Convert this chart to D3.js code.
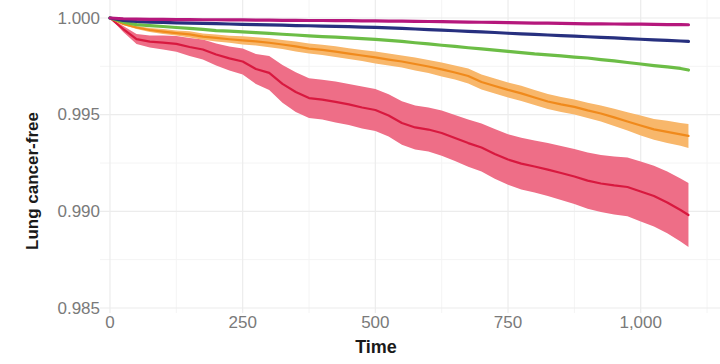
<!DOCTYPE html>
<html>
<head>
<meta charset="utf-8">
<script src="https://cdn.jsdelivr.net/npm/d3@7"></script>
<style>
  html, body { margin: 0; padding: 0; background: #fff; }
  svg { display: block; }
</style>
</head>
<body>
<svg id="chart" width="720" height="364"></svg>
<script>
// === DATA ===
const times = [0, 25, 50, 75, 100, 125, 150, 175, 200, 225, 250, 275, 300, 325, 350, 375, 400,
  425, 450, 475, 500, 525, 550, 575, 600, 625, 650, 675, 700, 725, 750, 775, 800, 825, 850,
  875, 900, 925, 950, 975, 1000, 1025, 1050, 1075, 1090];

const redSurv = [1, 0.99943, 0.99891, 0.99878, 0.99873, 0.99866, 0.99850, 0.99837, 0.99811,
  0.99791, 0.99775, 0.99736, 0.99716, 0.99659, 0.99617, 0.99586, 0.99578, 0.99566, 0.99553,
  0.99537, 0.99524, 0.99496, 0.99457, 0.99434, 0.99423, 0.99405, 0.99379, 0.99353, 0.99330,
  0.99297, 0.99268, 0.99247, 0.99232, 0.99216, 0.99198, 0.99180, 0.99159, 0.99144, 0.99134,
  0.99126, 0.99103, 0.99079, 0.99046, 0.99007, 0.98981];
const redCI = [0, 0.00016, 0.00026, 0.00031, 0.00036, 0.00041, 0.00047, 0.00052, 0.00057,
  0.00062, 0.00067, 0.00078, 0.00088, 0.00098, 0.00103, 0.00103, 0.00103, 0.00106, 0.00106,
  0.00109, 0.00109, 0.00109, 0.00112, 0.00114, 0.00114, 0.00117, 0.00119, 0.00122, 0.00124,
  0.00129, 0.00131, 0.00134, 0.00134, 0.00137, 0.00140, 0.00142, 0.00145, 0.00147, 0.00150,
  0.00152, 0.00155, 0.00157, 0.00160, 0.00163, 0.00165];

const orangeSurv = [1, 0.99969, 0.99951, 0.99938, 0.99930, 0.99922, 0.99915, 0.99904, 0.99897,
  0.99890, 0.99884, 0.99879, 0.99872, 0.99863, 0.99853, 0.99842, 0.99835, 0.99826, 0.99816,
  0.99806, 0.99796, 0.99785, 0.99775, 0.99762, 0.99749, 0.99734, 0.99718, 0.99700, 0.99669,
  0.99648, 0.99628, 0.99610, 0.99589, 0.99568, 0.99553, 0.99540, 0.99522, 0.99506, 0.99486,
  0.99465, 0.99444, 0.99424, 0.99411, 0.99398, 0.99390];
const orangeCI = [0, 0.00005, 0.00008, 0.00010, 0.00013, 0.00013, 0.00016, 0.00016, 0.00018,
  0.00018, 0.00021, 0.00021, 0.00023, 0.00023, 0.00026, 0.00026, 0.00026, 0.00028, 0.00028,
  0.00028, 0.00031, 0.00031, 0.00031, 0.00034, 0.00034, 0.00036, 0.00036, 0.00039, 0.00039,
  0.00039, 0.00039, 0.00039, 0.00039, 0.00039, 0.00039, 0.00039, 0.00039, 0.00041, 0.00044,
  0.00047, 0.00052, 0.00054, 0.00057, 0.00059, 0.00062];

const greenSurv = [1, 0.99979, 0.99966, 0.99961, 0.99956, 0.99951, 0.99946, 0.99941, 0.99935,
  0.99932, 0.99928, 0.99924, 0.99920, 0.99916, 0.99912, 0.99908, 0.99904, 0.99901, 0.99897,
  0.99893, 0.99889, 0.99884, 0.99879, 0.99872, 0.99866, 0.99859, 0.99853, 0.99846, 0.99840,
  0.99834, 0.99827, 0.99821, 0.99814, 0.99809, 0.99804, 0.99798, 0.99793, 0.99785, 0.99778,
  0.99770, 0.99762, 0.99754, 0.99747, 0.99739, 0.99731];

const navySurv = [1, 0.99987, 0.99982, 0.99979, 0.99977, 0.99975, 0.99974, 0.99972, 0.99971,
  0.99969, 0.99967, 0.99966, 0.99964, 0.99963, 0.99961, 0.99960, 0.99958, 0.99957, 0.99955,
  0.99953, 0.99952, 0.99949, 0.99946, 0.99943, 0.99940, 0.99937, 0.99934, 0.99931, 0.99928,
  0.99925, 0.99921, 0.99918, 0.99915, 0.99912, 0.99909, 0.99906, 0.99903, 0.99900, 0.99897,
  0.99893, 0.99890, 0.99887, 0.99884, 0.99881, 0.99879];

const magentaSurv = [1, 0.99996, 0.99994, 0.99993, 0.99993, 0.99992, 0.99992, 0.99991, 0.99991,
  0.99990, 0.99990, 0.99989, 0.99989, 0.99988, 0.99988, 0.99987, 0.99987, 0.99986, 0.99986,
  0.99985, 0.99985, 0.99984, 0.99984, 0.99983, 0.99982, 0.99981, 0.99980, 0.99979, 0.99978,
  0.99977, 0.99976, 0.99975, 0.99974, 0.99973, 0.99972, 0.99971, 0.99970, 0.99970, 0.99969,
  0.99968, 0.99968, 0.99967, 0.99966, 0.99966, 0.99965];

const xTicks = [0, 250, 500, 750, 1000];
const xMinor = [125, 375, 625, 875, 1125];
const yTicks = [0.985, 0.990, 0.995, 1.000];
const yMinor = [0.9875, 0.9925, 0.9975];

// === SCALES ===
const svg = d3.select("#chart");
const panel = { left: 100, right: 720, top: 0, bottom: 313 };
const font = "Liberation Sans, Arial, sans-serif";

const x = d3.scaleLinear().domain([0, 1000]).range([110, 640.7]);
const y = d3.scaleLinear().domain([0.985, 1.0]).range([308, 18]);

// === GRID ===
const grid = svg.append("g");
grid.selectAll(".vminor").data(xMinor).enter().append("line")
  .attr("x1", d => x(d)).attr("x2", d => x(d))
  .attr("y1", panel.top).attr("y2", panel.bottom)
  .attr("stroke", "#f4f4f4").attr("stroke-width", 1);
grid.selectAll(".hminor").data(yMinor).enter().append("line")
  .attr("x1", panel.left).attr("x2", panel.right)
  .attr("y1", d => y(d)).attr("y2", d => y(d))
  .attr("stroke", "#f4f4f4").attr("stroke-width", 1);
grid.selectAll(".vmajor").data(xTicks).enter().append("line")
  .attr("x1", d => x(d)).attr("x2", d => x(d))
  .attr("y1", panel.top).attr("y2", panel.bottom)
  .attr("stroke", "#ececec").attr("stroke-width", 1.2);
grid.selectAll(".hmajor").data(yTicks).enter().append("line")
  .attr("x1", panel.left).attr("x2", panel.right)
  .attr("y1", d => y(d)).attr("y2", d => y(d))
  .attr("stroke", "#ececec").attr("stroke-width", 1.2);

// === BANDS & LINES ===
function rows(surv, ci) {
  return times.map((t, i) => ({ t: t, s: surv[i], ci: ci ? ci[i] : 0 }));
}

const area = d3.area()
  .x(d => x(d.t))
  .y0(d => y(d.s - d.ci))
  .y1(d => y(d.s + d.ci));
const line = d3.line()
  .x(d => x(d.t))
  .y(d => y(d.s));

const series = [
  { surv: redSurv, ci: redCI, color: "#d8193f", band: "#ee6e87", width: 2.2 },
  { surv: orangeSurv, ci: orangeCI, color: "#f08a1c", band: "#f8b76b", width: 2.2 },
  { surv: greenSurv, ci: null, color: "#6cbd46", band: null, width: 3.2 },
  { surv: navySurv, ci: null, color: "#27307f", band: null, width: 3.2 },
  { surv: magentaSurv, ci: null, color: "#b5177c", band: null, width: 3.2 }
];

series.forEach(s => {
  if (s.band) {
    svg.append("path")
      .datum(rows(s.surv, s.ci))
      .attr("d", area)
      .attr("fill", s.band)
      .attr("stroke", "none");
  }
});
series.forEach(s => {
  svg.append("path")
    .datum(rows(s.surv, s.ci))
    .attr("d", line)
    .attr("fill", "none")
    .attr("stroke", s.color)
    .attr("stroke-width", s.width)
    .attr("stroke-linejoin", "round")
    .attr("stroke-linecap", "round");
});

// === AXES TEXT ===
const fmtX = d3.format(",");
svg.append("g").selectAll("text").data(xTicks).enter().append("text")
  .attr("x", d => x(d)).attr("y", 328)
  .attr("text-anchor", "middle")
  .attr("font-family", font)
  .attr("font-size", 17)
  .attr("fill", "#7a7a7a")
  .text(d => fmtX(d));

svg.append("g").selectAll("text").data(yTicks).enter().append("text")
  .attr("x", 100).attr("y", d => y(d) + 5.5)
  .attr("text-anchor", "end")
  .attr("font-family", font)
  .attr("font-size", 17)
  .attr("fill", "#7a7a7a")
  .text(d => d3.format(".3f")(d));

svg.append("text")
  .attr("x", 376).attr("y", 353)
  .attr("text-anchor", "middle")
  .attr("font-family", font)
  .attr("font-size", 18)
  .attr("font-weight", "bold")
  .attr("fill", "#1a1a1a")
  .text("Time");

svg.append("text")
  .attr("transform", "translate(38,181) rotate(-90)")
  .attr("text-anchor", "middle")
  .attr("font-family", font)
  .attr("font-size", 17)
  .attr("font-weight", "bold")
  .attr("fill", "#1a1a1a")
  .text("Lung cancer-free");
</script>
</body>
</html>
